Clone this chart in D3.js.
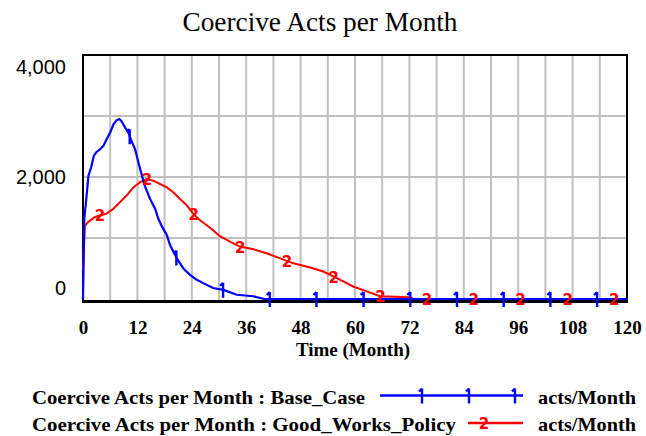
<!DOCTYPE html>
<html>
<head>
<meta charset="utf-8">
<script src="https://cdn.jsdelivr.net/npm/d3@7"></script>
<style>
  body { margin: 0; background: #fff; }
  svg { display: block; }
</style>
</head>
<body>
<div id="chart"></div>
<script>
// Base_Case series (time in months, acts/Month)
var baseTime = [0, 0.3, 0.8, 1.2, 1.8, 2.4, 3, 3.75, 4.5, 5.2, 6, 6.7, 7.4, 8, 8.5, 9.3, 10, 10.7, 11.5, 12.2,
  13, 13.7, 14.8, 15.9, 16.6, 17.4, 18.5, 19.2, 20.7, 22.1, 23.6, 25.1, 26.5, 28.7, 31, 33.9, 37.5, 40, 120];
var baseValues = [0, 1320, 1700, 2020, 2160, 2350, 2410, 2455, 2510, 2620, 2730, 2860, 2930, 2950, 2915, 2810, 2730, 2590, 2455, 2245,
  2020, 1840, 1640, 1480, 1320, 1190, 1045, 885, 665, 505, 395, 315, 260, 180, 150, 70, 45, 0, 0];

// Good_Works_Policy series
var policyTime = [0, 0.4, 1.2, 2.65, 3.75, 5.2, 6.7, 8.2, 9.6, 11.1, 12.6, 14.05, 15.5, 17, 18.5, 19.9, 21.4, 22.9, 24.3, 25.8,
  27.3, 28.5, 30.2, 32.4, 34.6, 37.6, 40.5, 43.5, 46.4, 50.1, 53, 55.2, 57.4, 59.6, 62.6, 65.5, 72, 73, 120];
var policyValues = [470, 1200, 1265, 1345, 1370, 1400, 1480, 1590, 1695, 1830, 1915, 1965, 1940, 1885, 1830, 1750, 1640, 1535, 1400, 1290,
  1210, 1140, 1030, 940, 860, 815, 750, 665, 585, 515, 450, 370, 290, 205, 125, 45, 30, 0, 0];

// where the "1" / "2" line markers sit (months)
var baseMarkers = [10.3, 20.6, 30.9, 41.2, 51.5, 61.9, 72.2, 82.5, 92.8, 103.1, 113.4];
var policyMarkers = [3.75, 14.1, 24.4, 34.7, 45, 55.3, 65.6, 75.9, 86.2, 96.5, 106.9, 117.2];

var xTicks = [0, 12, 24, 36, 48, 60, 72, 84, 96, 108, 120];
var yTicks = [0, 2000, 4000];
var xGrid = d3.range(6, 120, 6);
var yGrid = [1000, 2000, 3000];

var legendNames = ['Coercive Acts per Month : Base_Case', 'Coercive Acts per Month : Good_Works_Policy'];
var unitLabel = 'acts/Month';

var W = 646, H = 436;
var plotL = 83, plotR = 627, plotT = 55, plotB = 299;

var svg = d3.select('#chart').append('svg')
    .attr('width', W)
    .attr('height', H);

svg.append('rect').attr('width', W).attr('height', H).attr('fill', '#fff');

var x = d3.scaleLinear().domain([0, 120]).range([plotL, plotR]);
var y = d3.scaleLinear().domain([0, 4000]).range([plotB, plotT]);

// title
svg.append('text')
    .attr('x', 320).attr('y', 31)
    .attr('text-anchor', 'middle')
    .attr('font-family', 'Liberation Serif')
    .attr('font-size', 27)
    .attr('textLength', 275)
    .attr('lengthAdjust', 'spacingAndGlyphs')
    .text('Coercive Acts per Month');

// grid
svg.append('g').selectAll('line').data(xGrid).join('line')
    .attr('x1', d => x(d)).attr('x2', d => x(d))
    .attr('y1', plotT).attr('y2', 301)
    .attr('stroke', '#c0c0c0').attr('stroke-width', 2);
svg.append('g').selectAll('line').data(yGrid).join('line')
    .attr('x1', plotL).attr('x2', plotR)
    .attr('y1', d => y(d)).attr('y2', d => y(d))
    .attr('stroke', '#c0c0c0').attr('stroke-width', 2);

// frame
svg.append('line').attr('x1', plotL - 1).attr('x2', plotR + 1).attr('y1', plotT).attr('y2', plotT)
    .attr('stroke', '#000').attr('stroke-width', 2);
svg.append('line').attr('x1', plotR).attr('x2', plotR).attr('y1', plotT).attr('y2', 302)
    .attr('stroke', '#000').attr('stroke-width', 2);
svg.append('line').attr('x1', plotL).attr('x2', plotL).attr('y1', plotT).attr('y2', 302)
    .attr('stroke', '#000').attr('stroke-width', 2);
svg.append('line').attr('x1', plotL - 1).attr('x2', plotR + 1).attr('y1', 301.5).attr('y2', 301.5)
    .attr('stroke', '#000').attr('stroke-width', 3);

// axes
var xAxis = svg.append('g')
    .attr('transform', 'translate(0,317)')
    .call(d3.axisBottom(x).tickValues(xTicks).tickSize(0).tickFormat(d3.format('d')));
xAxis.select('.domain').remove();
xAxis.selectAll('text')
    .attr('font-family', 'Liberation Serif')
    .attr('font-weight', 'bold')
    .attr('font-size', 19)
    .attr('fill', '#000');

var yAxis = svg.append('g')
    .attr('transform', 'translate(' + plotL + ',0)')
    .call(d3.axisLeft(y).tickValues(yTicks).tickSize(0).tickPadding(17).tickFormat(d3.format(',')));
yAxis.select('.domain').remove();
yAxis.selectAll('text')
    .attr('font-family', 'Liberation Sans')
    .attr('font-size', 20)
    .attr('fill', '#000')
    .attr('dy', d => d === 4000 ? '0.9em' : d === 0 ? '-0.25em' : '0.32em');

svg.append('text')
    .attr('x', 353).attr('y', 356)
    .attr('text-anchor', 'middle')
    .attr('font-family', 'Liberation Serif')
    .attr('font-weight', 'bold')
    .attr('font-size', 19)
    .text('Time (Month)');

// series
var basePts = baseTime.map((t, i) => [t, baseValues[i]]);
var policyPts = policyTime.map((t, i) => [t, policyValues[i]]);
var line = d3.line().x(d => x(d[0])).y(d => y(d[1]));

svg.append('path').datum(policyPts)
    .attr('d', line).attr('fill', 'none')
    .attr('stroke', '#ff0000').attr('stroke-width', 2);
svg.append('path').datum(basePts)
    .attr('d', line).attr('fill', 'none')
    .attr('stroke', '#0000ff').attr('stroke-width', 2.2);

function valueAt(times, values, t) {
  var i = d3.bisectRight(times, t);
  if (i <= 0) return values[0];
  if (i >= times.length) return values[values.length - 1];
  var t0 = times[i - 1], t1 = times[i];
  return values[i - 1] + (values[i] - values[i - 1]) * (t - t0) / (t1 - t0);
}

function oneMarker(g, px, py) {
  g.append('path')
      .attr('d', 'M' + px + ',' + (py - 7) + 'V' + (py + 8) + 'M' + (px - 3) + ',' + (py - 4) + 'L' + px + ',' + (py - 7))
      .attr('fill', 'none').attr('stroke', '#0000ff').attr('stroke-width', 2.4);
}
function twoMarker(g, px, py) {
  g.append('text')
      .attr('x', px).attr('y', py + 6)
      .attr('text-anchor', 'middle')
      .attr('font-family', 'DejaVu Sans')
      .attr('font-weight', 'bold')
      .attr('font-size', 15)
      .attr('fill', '#ff0000')
      .text('2');
}

var markG = svg.append('g');
baseMarkers.forEach(function (t) {
  oneMarker(markG, x(t), y(valueAt(baseTime, baseValues, t)));
});
policyMarkers.forEach(function (t) {
  twoMarker(markG, x(t), y(valueAt(policyTime, policyValues, t)));
});

// legend
var legend = svg.append('g');
var legendRows = [{y: 395.5, color: '#0000ff', x0: 380, len: 333}, {y: 423, color: '#ff0000', x0: 468, len: 424}];
legendRows.forEach(function (r, i) {
  legend.append('text')
      .attr('x', 32).attr('y', r.y + 8)
      .attr('font-family', 'Liberation Serif')
      .attr('font-weight', 'bold')
      .attr('font-size', 19)
      .attr('textLength', r.len)
      .attr('lengthAdjust', 'spacingAndGlyphs')
      .text(legendNames[i]);
  legend.append('line')
      .attr('x1', r.x0).attr('x2', 523)
      .attr('y1', r.y).attr('y2', r.y)
      .attr('stroke', r.color).attr('stroke-width', 2.5);
  legend.append('text')
      .attr('x', 538).attr('y', r.y + 8)
      .attr('font-family', 'Liberation Serif')
      .attr('font-weight', 'bold')
      .attr('font-size', 19)
      .attr('textLength', 98)
      .attr('lengthAdjust', 'spacingAndGlyphs')
      .text(unitLabel);
});
[422, 469, 515].forEach(function (px) { oneMarker(legend, px, 395.5); });
twoMarker(legend, 484, 423);
</script>
</body>
</html>
